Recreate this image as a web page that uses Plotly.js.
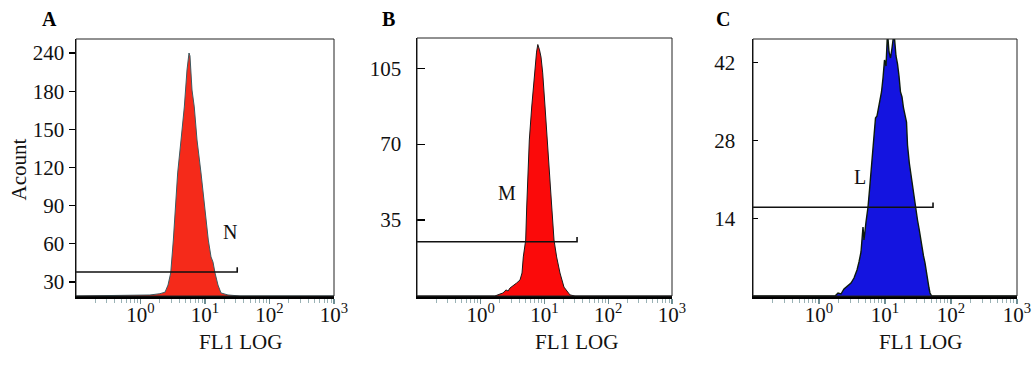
<!DOCTYPE html>
<html>
<head>
<meta charset="utf-8">
<script src="https://cdn.plot.ly/plotly-3.0.1.min.js"></script>
<style>html,body{margin:0;padding:0;background:#fff;}#chart{width:1032px;height:377px;}</style>
</head>
<body>
<div id="chart"></div>
<script>
// ---------- data ----------
const panelLetters = ['A', 'B', 'C'];
const gateNames = ['N', 'M', 'L'];
const xTickVals = [1, 10, 100, 1000];
const xTickText = ['10<sup>0</sup>', '10<sup>1</sup>', '10<sup>2</sup>', '10<sup>3</sup>'];
const xTitle = 'FL1 LOG';
const yTitle = 'Acount';

// Panel A (y tick labels as printed on the original)
const aTickVals = [11, 41, 71, 101, 131, 161, 191];
const aTickText = ['30', '60', '90', '120', '150', '180', '240'];
const aFL1 = [0.1, 1.40, 2.00, 2.40, 2.67, 2.94, 3.23, 3.77, 4.25, 4.78, 5.26, 5.55, 5.65, 5.85, 6.00, 6.29, 6.82, 7.52, 8.67, 10.0, 11.25, 12.4, 13.3, 14.3, 15.9, 17.7, 22.7, 34.9, 1000];
const aCount = [0, 0.8, 1.8, 3.0, 8.6, 18.1, 44.0, 96.7, 122.6, 148.6, 177.7, 189.5, 191.0, 188.7, 175.3, 161.9, 148.6, 122.6, 96.7, 67.6, 44.0, 30.7, 26.7, 18.1, 8.6, 2.4, 0.8, 0, 0];

// Panel B
const bTickVals = [35, 70, 105];
const bTickText = ['35', '70', '105'];
const bFL1 = [0.1, 1.67, 2.00, 2.23, 2.49, 2.68, 2.88, 3.21, 3.66, 4.13, 4.44, 4.65, 5.07, 5.26, 5.45, 5.78, 6.30, 6.92, 7.50, 7.85, 8.05, 8.35, 8.82, 9.37, 10.2, 11.1, 12.2, 13.0, 14.1, 15.5, 17.5, 20.2, 25.1, 30.1, 1000];
const bCount = [0, 0, 0.9, 1.4, 2.8, 2.3, 3.7, 4.6, 6.0, 7.4, 10.6, 18.0, 25.8, 41.0, 56.7, 71.9, 87.1, 102.8, 112.4, 115.9, 114.2, 113.4, 110.1, 102.8, 87.1, 71.9, 56.7, 41.0, 25.8, 18.0, 10.6, 4.1, 0.5, 0, 0];

// Panel C
const cTickVals = [14, 28, 42];
const cTickText = ['14', '28', '42'];
const cFL1 = [0.1, 1.748, 1.941, 2.154, 2.392, 2.750, 3.053, 3.391, 3.765, 4.037, 4.329, 4.642, 4.806, 5.153, 5.526, 5.824, 6.137, 6.465, 6.813, 7.179, 7.565, 8.111, 8.401, 8.852, 9.326, 9.827, 10.36, 10.91, 11.50, 12.12, 12.77, 13.69, 14.68, 15.47, 16.30, 17.17, 18.10, 19.07, 21.18, 21.93, 23.35, 25.39, 27.03, 29.19, 31.08, 33.09, 35.99, 38.31, 40.37, 43.75, 46.42, 48.07, 51.02, 1000];
const cCount = [0, 0, 0.54, 0.36, 1.26, 1.80, 2.34, 3.24, 4.68, 6.13, 7.93, 12.43, 10.09, 13.33, 16.04, 19.10, 22.70, 26.31, 29.91, 32.07, 32.43, 34.59, 35.50, 36.76, 39.28, 42.52, 41.44, 47.5, 43.96, 42.88, 44.68, 47.5, 43.24, 41.80, 39.64, 36.76, 35.86, 33.87, 31.35, 27.21, 23.96, 20.90, 18.20, 16.04, 13.69, 11.89, 8.83, 7.21, 5.95, 2.88, 1.44, 0.54, 0, 0];

// Gates (marker bars): start, end, level
const gateStart = [0.1, 0.1, 0.1];
const gateEnd = [31.6, 32.4, 53.4];
const gateLevel = [18.9, 25.0, 16.0];
// Gate label anchor (FL1, count)
const labelFL1 = [24.4, 2.58, 4.18];
const labelCount = [50.3, 47.5, 21.4];

// ---------- styling ----------
const W = 1032, H = 377;
const serif = 'Liberation Serif, Times New Roman, serif';
const panels = [
  {x: aFL1, y: aCount, tv: aTickVals, tt: aTickText, yr: [0, 202], fill: '#f52a1a', edge: '#3c5a60', ew: 1,
   xd: [76, 334], yd: [39, 296], yticks: 'outside', ylen: 6, ystand: 0},
  {x: bFL1, y: bCount, tv: bTickVals, tt: bTickText, yr: [0, 118.9], fill: '#fb0a0a', edge: '#1a1a1a', ew: 1,
   xd: [417, 672], yd: [38, 296], yticks: 'inside', ylen: 8, ystand: 10},
  {x: cFL1, y: cCount, tv: cTickVals, tt: cTickText, yr: [0, 46.3], fill: '#1414e0', edge: '#0c1a0c', ew: 1.4,
   xd: [753, 1017], yd: [39, 296], yticks: 'inside', ylen: 5, ystand: 12}
];

const minorVals = [];
[0.1, 1, 10, 100].forEach(d => { for (let k = 2; k <= 9; k++) minorVals.push(k * d); });

const data = [];
const layout = {
  width: W, height: H,
  margin: {l: 0, r: 0, t: 0, b: 0},
  paper_bgcolor: '#fff', plot_bgcolor: '#fff',
  showlegend: false,
  shapes: [], annotations: []
};

panels.forEach((p, i) => {
  const sx = i === 0 ? '' : String(i + 1);
  const xa = 'x' + sx, ya = 'y' + sx;
  data.push({
    type: 'scatter', mode: 'lines', x: p.x, y: p.y, xaxis: xa, yaxis: ya,
    fill: 'tozeroy', fillcolor: p.fill, line: {color: p.edge, width: p.ew}, hoverinfo: 'skip'
  });
  const cap = (p.yr[1] - p.yr[0]) * 0.018;
  data.push({
    type: 'scatter', mode: 'lines', xaxis: xa, yaxis: ya,
    x: [gateStart[i], gateEnd[i], gateEnd[i]],
    y: [gateLevel[i], gateLevel[i], gateLevel[i] + cap],
    line: {color: '#111', width: 1.6}, hoverinfo: 'skip'
  });
  layout['xaxis' + sx] = {
    domain: [p.xd[0] / W, p.xd[1] / W], anchor: ya,
    type: 'log', range: [-1, 3], tickmode: 'array', tickvals: xTickVals, ticktext: xTickText,
    ticks: 'outside', ticklen: 5, tickwidth: 1.2, tickcolor: '#6f8f94',
    ticklabelstandoff: -7,
    minor: {tickmode: 'array', tickvals: minorVals, ticks: 'outside', ticklen: 4, tickwidth: 1, tickcolor: '#9bb3b6', showgrid: false},
    showgrid: false, zeroline: false, showline: true, linecolor: '#000', linewidth: 2.5,
    tickfont: {family: serif, size: 21, color: '#111'}, fixedrange: true
  };
  layout['yaxis' + sx] = {
    domain: [1 - p.yd[1] / H, 1 - p.yd[0] / H], anchor: xa,
    range: p.yr, tickmode: 'array', tickvals: p.tv, ticktext: p.tt,
    ticks: p.yticks, ticklen: p.ylen, tickwidth: 1.2, tickcolor: '#000',
    ticklabelstandoff: p.ystand,
    showgrid: false, zeroline: false, showline: true, linecolor: '#000', linewidth: 1.5,
    tickfont: {family: serif, size: 21, color: '#111'}, fixedrange: true
  };
  layout.shapes.push({type: 'rect', xref: xa + ' domain', yref: ya + ' domain', x0: 0, x1: 1, y0: 0, y1: 1,
    line: {color: '#222', width: 1}, layer: 'above'});
  // panel letter
  layout.annotations.push({text: '<b>' + panelLetters[i] + '</b>', xref: 'paper', yref: 'paper',
    x: [49, 388, 723][i] / W, y: 1 - 19 / H, showarrow: false, xanchor: 'center', yanchor: 'middle',
    font: {family: serif, size: 20, color: '#000'}});
  // x axis title
  layout.annotations.push({text: xTitle, xref: 'paper', yref: 'paper',
    x: [240, 576, 920][i] / W, y: 1 - 342 / H, showarrow: false, xanchor: 'center', yanchor: 'middle',
    font: {family: serif, size: 21, color: '#111'}});
  // gate label
  layout.annotations.push({text: gateNames[i], xref: xa, yref: ya,
    x: Math.log10(labelFL1[i]), y: labelCount[i], showarrow: false, xanchor: 'center', yanchor: 'middle',
    font: {family: serif, size: 20, color: '#111'}});
});

layout.annotations.push({text: yTitle, xref: 'paper', yref: 'paper', x: 18.5 / W, y: 1 - 170 / H,
  textangle: -90, showarrow: false, xanchor: 'center', yanchor: 'middle',
  font: {family: serif, size: 21, color: '#111'}});

Plotly.newPlot('chart', data, layout, {staticPlot: true, displayModeBar: false});
</script>
</body>
</html>
